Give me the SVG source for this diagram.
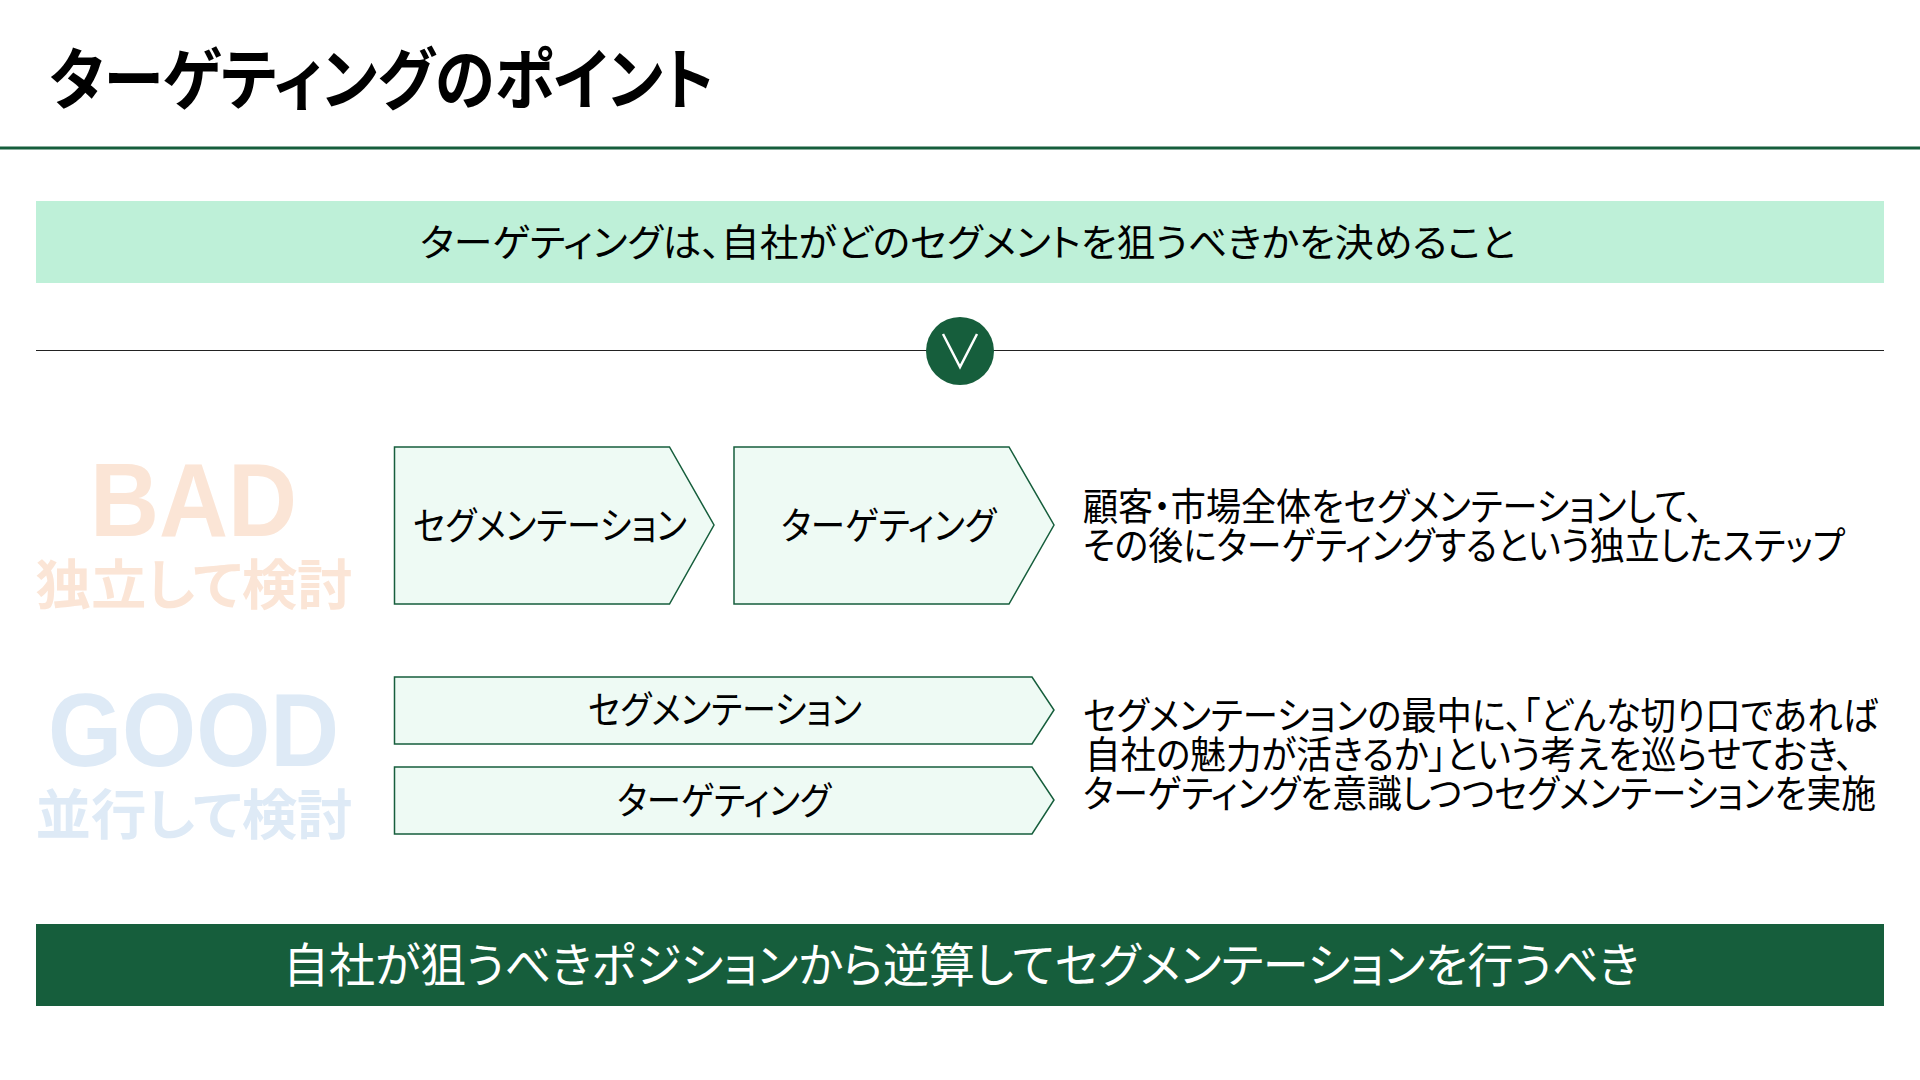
<svg xmlns="http://www.w3.org/2000/svg" width="1920" height="1080" viewBox="0 0 1920 1080">
<style>
text{font-family:"Noto Sans CJK JP","Liberation Sans",sans-serif;font-feature-settings:"palt";fill:#000}
.lat{font-family:"Liberation Sans","Noto Sans CJK JP",sans-serif;font-weight:700}
.b{font-weight:700}
.m{text-anchor:middle}
.chev{fill:#EEFAF4;stroke:#165E3C;stroke-width:1.5}
.t36{font-size:38px}
.bad{fill:#FBE5D6}
.good{fill:#DEEAF6}
</style>
<rect width="1920" height="1080" fill="#fff"/>
<g id="title"><text class="b" x="49" y="104" font-size="67" textLength="665" lengthAdjust="spacingAndGlyphs">ターゲティングのポイント</text></g>
<g id="connectors">
<line x1="0" y1="148" x2="1920" y2="148" stroke="#165E3C" stroke-width="3"/>
<line x1="36" y1="350.500" x2="1884" y2="350.500" stroke="#222" stroke-width="1.200"/>
</g>
<g id="top-band"><rect x="36" y="201" width="1848" height="82" fill="#BEF0D8"/>
<text class="t36" x="420" y="255.500" textLength="1095" lengthAdjust="spacingAndGlyphs">ターゲティングは、自社がどのセグメントを狙うべきかを決めること</text></g>
<g id="down-circle"><circle cx="960" cy="351" r="34" fill="#165E3C"/><path d="M943 334L960 367L977 334" fill="none" stroke="#fff" stroke-width="2.500"/></g>
<g id="bad-label"><text class="lat bad" x="90" y="536" font-size="104" textLength="207" lengthAdjust="spacingAndGlyphs">BAD</text><text class="b m bad" x="194" y="605" font-size="54" textLength="317" lengthAdjust="spacingAndGlyphs">独立して検討</text></g>
<g id="bad-seg"><path class="chev" d="M394.500 447H669.500L714 525L669.500 604H394.500Z"/><text class="t36" x="413" y="539" textLength="274" lengthAdjust="spacingAndGlyphs">セグメンテーション</text></g>
<g id="bad-tar"><path class="chev" d="M734 447H1009L1054 525L1009 604H734Z"/><text class="t36" x="781" y="539" textLength="215" lengthAdjust="spacingAndGlyphs">ターゲティング</text></g>
<g id="bad-note"><text class="t36" x="1083" y="520" textLength="620" lengthAdjust="spacingAndGlyphs">顧客・市場全体をセグメンテーションして、</text><text class="t36" x="1083" y="558.500" textLength="762" lengthAdjust="spacingAndGlyphs">その後にターゲティングするという独立したステップ</text></g>
<g id="good-label"><text class="lat good" x="48" y="766" font-size="104" textLength="291" lengthAdjust="spacingAndGlyphs">GOOD</text><text class="b m good" x="194" y="835" font-size="54" textLength="317" lengthAdjust="spacingAndGlyphs">並行して検討</text></g>
<g id="good-seg"><path class="chev" d="M394.500 677H1032L1054 710L1032 744H394.500Z"/><text class="t36" x="588" y="723" textLength="274" lengthAdjust="spacingAndGlyphs">セグメンテーション</text></g>
<g id="good-tar"><path class="chev" d="M394.500 767H1032L1054 800L1032 834H394.500Z"/><text class="t36" x="617" y="814" textLength="214" lengthAdjust="spacingAndGlyphs">ターゲティング</text></g>
<g id="good-note"><text class="t36" x="1083" y="729" textLength="795" lengthAdjust="spacingAndGlyphs">セグメンテーションの最中に、「どんな切り口であれば</text><text class="t36" x="1085" y="768" textLength="768" lengthAdjust="spacingAndGlyphs">自社の魅力が活きるか」という考えを巡らせておき、</text><text class="t36" x="1083" y="807" textLength="793" lengthAdjust="spacingAndGlyphs">ターゲティングを意識しつつセグメンテーションを実施</text></g>
<g id="bottom-band"><rect x="36" y="924" width="1848" height="82" fill="#165E3C"/><text font-size="47" x="283" y="982" textLength="1356" lengthAdjust="spacingAndGlyphs" style="fill:#fff">自社が狙うべきポジションから逆算してセグメンテーションを行うべき</text></g>
</svg>
